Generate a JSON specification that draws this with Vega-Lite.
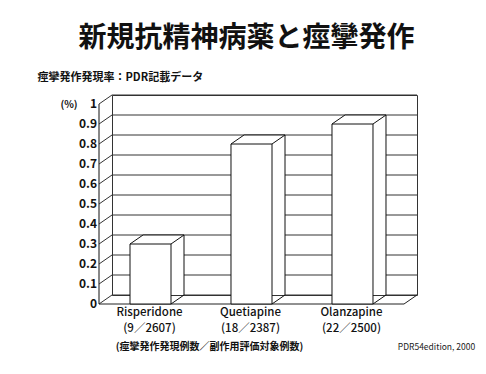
{
  "$schema": "https://vega.github.io/schema/vega-lite/v6.json",
  "width": 305,
  "height": 200,
  "autosize": "none",
  "padding": {"left": 112, "top": 95, "right": 69, "bottom": 79},
  "background": "white",
  "title": {
    "text": "新規抗精神病薬と痙攣発作",
    "font": "Noto Sans CJK JP",
    "fontSize": 28,
    "fontWeight": "bold",
    "color": "#111111",
    "anchor": "middle",
    "frame": "group",
    "dx": -18,
    "offset": 18
  },
  "config": {
    "font": "Noto Sans CJK JP",
    "numberFormat": "~g",
    "view": {"stroke": "#333333", "strokeWidth": 1},
    "scale": {"bandPaddingInner": 0.594, "bandPaddingOuter": 0.307}
  },
  "datasets": {
    "drugs": [
      {"drug": "Risperidone (9／2607)", "rate": 0.3},
      {"drug": "Quetiapine (18／2387)", "rate": 0.8},
      {"drug": "Olanzapine (22／2500)", "rate": 0.9}
    ],
    "ticks": [
      {"v": 0}, {"v": 0.1}, {"v": 0.2}, {"v": 0.3}, {"v": 0.4}, {"v": 0.5},
      {"v": 0.6}, {"v": 0.7}, {"v": 0.8}, {"v": 0.9}, {"v": 1}
    ],
    "one": [{}]
  },
  "resolve": {"scale": {"x": "independent", "y": "independent"}, "axis": {"x": "independent", "y": "independent"}},
  "layer": [
    {
      "data": {"name": "ticks"},
      "mark": {"type": "rule", "color": "#333333", "strokeWidth": 1},
      "encoding": {
        "y": {
          "field": "v",
          "type": "quantitative",
          "scale": {"domain": [0, 1], "nice": false, "zero": true},
          "axis": {
            "orient": "left",
            "title": "(%)",
            "titleAngle": 0,
            "titleX": -30,
            "titleY": 1,
            "titleAlign": "center",
            "titleBaseline": "middle",
            "titleFontSize": 10,
            "titleFontWeight": "bold",
            "titleColor": "#111111",
            "offset": 22,
            "translate": 9,
            "values": [0, 0.1, 0.2, 0.3, 0.4, 0.5, 0.6, 0.7, 0.8, 0.9, 1],
            "format": "~g",
            "labelOverlap": false,
            "labelFlush": false,
            "labelBound": false,
            "ticks": false,
            "grid": false,
            "domain": true,
            "domainColor": "#111111",
            "labelPadding": 2,
            "labelFontSize": 12,
            "labelFontWeight": "bold",
            "labelColor": "#111111"
          }
        }
      }
    },
    {
      "data": {"name": "ticks"},
      "mark": {"type": "rule", "color": "#333333", "strokeWidth": 1, "xOffset": -13, "yOffset": 9},
      "encoding": {
        "x": {
          "datum": 0,
          "type": "quantitative",
          "scale": {"domain": [0, 1], "nice": false},
          "axis": {
            "orient": "top",
            "labels": false,
            "ticks": false,
            "domain": false,
            "grid": false,
            "title": "痙攣発作発現率：PDR記載データ",
            "titleX": -75,
            "titleY": -18,
            "titleAlign": "left",
            "titleBaseline": "middle",
            "titleAngle": 0,
            "titleFontSize": 11,
            "titleFontWeight": "bold",
            "titleColor": "#111111"
          }
        },
        "x2": {"datum": 0},
        "y": {"field": "v", "type": "quantitative", "scale": {"domain": [0, 1], "nice": false}, "axis": null},
        "y2": {"field": "v"}
      }
    },
    {
      "data": {"name": "one"},
      "mark": {"type": "rule", "color": "#222222", "strokeWidth": 1, "xOffset": -13, "x2Offset": -13, "yOffset": 9, "y2Offset": 9},
      "encoding": {
        "x": {
          "datum": 0,
          "type": "quantitative",
          "scale": {"domain": [0, 1], "nice": false},
          "axis": {
            "orient": "bottom",
            "labels": false,
            "ticks": false,
            "domain": false,
            "grid": false,
            "title": "PDR54edition, 2000",
            "titleX": 324,
            "titleY": 51,
            "titleAlign": "center",
            "titleBaseline": "middle",
            "titleFontSize": 8.5,
            "titleFontWeight": "normal",
            "titleColor": "#222222"
          }
        },
        "x2": {"datum": 1},
        "y": {"datum": 0, "type": "quantitative", "scale": {"domain": [0, 1], "nice": false}, "axis": null},
        "y2": {"datum": 0}
      }
    },
    {
      "data": {"name": "one"},
      "mark": {"type": "rule", "color": "#222222", "strokeWidth": 1, "xOffset": -13, "yOffset": 9},
      "encoding": {
        "x": {"datum": 1, "type": "quantitative", "scale": {"domain": [0, 1], "nice": false}, "axis": null},
        "x2": {"datum": 1},
        "y": {"datum": 0, "type": "quantitative", "scale": {"domain": [0, 1], "nice": false}, "axis": null},
        "y2": {"datum": 0}
      }
    },
    {
      "data": {"name": "drugs"},
      "layer": [
        {
          "mark": {"type": "bar", "fill": "white", "strokeWidth": 0},
          "encoding": {
            "x": {
              "field": "drug",
              "type": "nominal",
              "sort": null,
              "scale": {"type": "band"},
              "axis": {
                "orient": "bottom",
                "title": "(痙攣発作発現例数／副作用評価対象例数)",
                "titleX": 97,
                "titleY": 51,
                "titleAlign": "center",
                "titleBaseline": "middle",
                "titleFontSize": 10,
                "titleFontWeight": "bold",
                "titleColor": "#111111",
                "labelExpr": "split(datum.label, ' ')",
                "labelAngle": 0,
                "labelOffset": -14,
                "labelPadding": 11,
                "labelLineHeight": 16,
                "labelFontSize": 11.5,
                "labelFontWeight": 500,
                "labelColor": "#111111",
                "ticks": false,
                "domain": false,
                "grid": false
              }
            },
            "y": {"field": "rate", "type": "quantitative", "scale": {"domain": [0, 1], "nice": false}, "axis": null}
          }
        },
        {
          "mark": {"type": "bar", "fill": "white", "stroke": "#111111", "strokeWidth": 1, "xOffset": -13, "x2Offset": -13, "yOffset": 9, "y2Offset": 9},
          "encoding": {
            "x": {"field": "drug", "type": "nominal", "sort": null, "scale": {"type": "band"}},
            "y": {"field": "rate", "type": "quantitative", "scale": {"domain": [0, 1], "nice": false}}
          }
        },
        {
          "mark": {"type": "rule", "color": "#111111", "strokeWidth": 1},
          "encoding": {
            "x": {"field": "drug", "type": "nominal", "sort": null, "scale": {"type": "band"}, "bandPosition": 0},
            "x2": {"field": "drug", "bandPosition": 1},
            "y": {"field": "rate", "type": "quantitative", "scale": {"domain": [0, 1], "nice": false}}
          }
        },
        {
          "mark": {"type": "rule", "color": "#111111", "strokeWidth": 1},
          "encoding": {
            "x": {"field": "drug", "type": "nominal", "sort": null, "scale": {"type": "band"}, "bandPosition": 1},
            "y": {"field": "rate", "type": "quantitative", "scale": {"domain": [0, 1], "nice": false}},
            "y2": {"datum": 0}
          }
        },
        {
          "mark": {"type": "rule", "color": "#111111", "strokeWidth": 1, "xOffset": -13, "yOffset": 9},
          "encoding": {
            "x": {"field": "drug", "type": "nominal", "sort": null, "scale": {"type": "band"}, "bandPosition": 0},
            "x2": {"field": "drug", "bandPosition": 0},
            "y": {"field": "rate", "type": "quantitative", "scale": {"domain": [0, 1], "nice": false}},
            "y2": {"field": "rate"}
          }
        },
        {
          "mark": {"type": "rule", "color": "#111111", "strokeWidth": 1, "xOffset": -13, "yOffset": 9},
          "encoding": {
            "x": {"field": "drug", "type": "nominal", "sort": null, "scale": {"type": "band"}, "bandPosition": 1},
            "x2": {"field": "drug", "bandPosition": 1},
            "y": {"field": "rate", "type": "quantitative", "scale": {"domain": [0, 1], "nice": false}},
            "y2": {"field": "rate"}
          }
        },
        {
          "mark": {"type": "rule", "color": "#111111", "strokeWidth": 1, "xOffset": -13, "yOffset": 9},
          "encoding": {
            "x": {"field": "drug", "type": "nominal", "sort": null, "scale": {"type": "band"}, "bandPosition": 1},
            "x2": {"field": "drug", "bandPosition": 1},
            "y": {"datum": 0, "type": "quantitative", "scale": {"domain": [0, 1], "nice": false}},
            "y2": {"datum": 0}
          }
        }
      ]
    }
  ]
}
